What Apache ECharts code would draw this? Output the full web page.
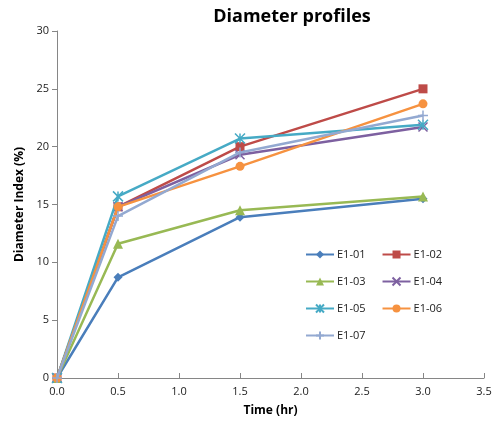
<!DOCTYPE html>
<html><head><meta charset="utf-8">
<script src="https://cdn.jsdelivr.net/npm/echarts@6/dist/echarts.min.js"></script>
<style>html,body{margin:0;padding:0;background:#fff}#c{width:501px;height:430px}</style>
</head><body><div id="c"></div>
<script>
var times = [0, 0.5, 1.5, 3.0];
var names = ['E1-01','E1-02','E1-03','E1-04','E1-05','E1-06','E1-07'];
var e101 = [0, 8.7, 13.9, 15.5];
var e102 = [0, 14.8, 20.0, 25.0];
var e103 = [0, 11.6, 14.5, 15.7];
var e104 = [0, 14.8, 19.3, 21.7];
var e105 = [0, 15.7, 20.7, 21.9];
var e106 = [0, 14.8, 18.3, 23.7];
var e107 = [0, 14.0, 19.5, 22.7];
var xTicks = ['0.0','0.5','1.0','1.5','2.0','2.5','3.0','3.5'];
var yTicks = ['0','5','10','15','20','25','30'];

var colors = ['#4A7EBB','#BE4B48','#98B954','#7D60A0','#46AAC5','#F69240','#93A9D1'];
var xPath = 'path://M0,0L10,10M10,0L0,10';
var astPath = 'path://M0,0L10,10M10,0L0,10M5,0L5,10';
var plusPath = 'path://M5,0L5,10M0,5L10,5';
var symbols = ['diamond','rect','triangle', xPath, astPath, 'circle', plusPath];
var sizes = [9, 9, 10, 9, 10, 9, 10];
var allData = [e101,e102,e103,e104,e105,e106,e107];

var series = names.map(function(n,i){
  var strokeSym = (i===3||i===4||i===6);
  return {
    name: n, type: 'line',
    data: times.map(function(t,k){return [t, allData[i][k]];}),
    symbol: symbols[i], symbolSize: sizes[i], showAllSymbol: true,
    lineStyle: {color: colors[i], width: 2.5},
    itemStyle: strokeSym ? {color: colors[i], borderColor: colors[i], borderWidth: 1.5} : {color: colors[i], borderWidth: 0},
    emphasis: {disabled: true},
    z: 3 + i
  };
});

function leg(top, data){
  return {
    left: 305, top: top, orient: 'horizontal', itemGap: 16,
    itemWidth: 28, itemHeight: 10, data: data,
    textStyle: {fontFamily: 'Open Sans', fontSize: 11, color: '#222', padding: [0,0,0,-2]},
    padding: 0
  };
}

var chart = echarts.init(document.getElementById('c'), null, {renderer: 'canvas'});
chart.setOption({
  animation: false,
  color: colors,
  title: {
    text: 'Diameter profiles', left: 287, top: 3, textAlign: 'center',
    textStyle: {fontFamily: 'Open Sans', fontWeight: 'bold', fontSize: 18, color: '#000'}
  },
  legend: [leg(249, ['E1-01','E1-02']), leg(276, ['E1-03','E1-04']), leg(303, ['E1-05','E1-06']), leg(330, ['E1-07'])],
  grid: {left: 57, right: 17, top: 31, bottom: 52, containLabel: false},
  xAxis: {
    type: 'value', min: 0, max: 3.5, interval: 0.5,
    name: 'Time (hr)', nameLocation: 'middle', nameGap: 27,
    nameTextStyle: {fontFamily: 'Open Sans', fontWeight: 'bold', fontSize: 12, color: '#000'},
    axisLine: {lineStyle: {color: '#868686', width: 1}},
    axisTick: {inside: true, length: 5, lineStyle: {color: '#868686'}},
    axisLabel: {fontFamily: 'Open Sans', fontSize: 11, color: '#222', margin: 8,
      formatter: function(v){ var i = Math.round(v/0.5); return xTicks[i]; }},
    splitLine: {show: false}
  },
  yAxis: {
    type: 'value', min: 0, max: 30, interval: 5,
    name: 'Diameter Index (%)', nameLocation: 'middle', nameGap: 30, nameRotate: 90,
    nameTextStyle: {fontFamily: 'Open Sans', fontWeight: 'bold', fontSize: 12, color: '#000'},
    axisLine: {show: true, lineStyle: {color: '#868686', width: 1}},
    axisTick: {show: true, inside: false, length: 5, lineStyle: {color: '#868686'}},
    axisLabel: {fontFamily: 'Open Sans', fontSize: 11, color: '#222', margin: 8,
      formatter: function(v){ return yTicks[Math.round(v/5)]; }},
    splitLine: {show: false}
  },
  series: series
});
</script></body></html>
